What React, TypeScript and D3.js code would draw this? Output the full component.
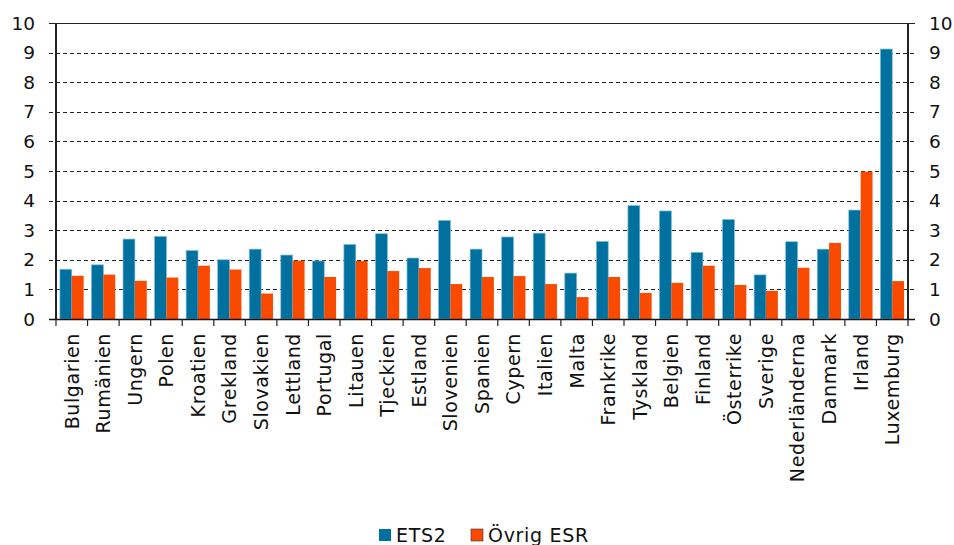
import React from "react";
import * as d3 from "d3";

const categories = [
  "Bulgarien", "Rumänien", "Ungern", "Polen", "Kroatien", "Grekland", "Slovakien",
  "Lettland", "Portugal", "Litauen", "Tjeckien", "Estland", "Slovenien", "Spanien",
  "Cypern", "Italien", "Malta", "Frankrike", "Tyskland", "Belgien", "Finland",
  "Österrike", "Sverige", "Nederländerna", "Danmark", "Irland", "Luxemburg",
];
const ets2 = [
  1.68, 1.83, 2.7, 2.79, 2.31, 2.0, 2.36, 2.16, 1.96, 2.52, 2.88, 2.06, 3.33,
  2.36, 2.77, 2.9, 1.55, 2.62, 3.83, 3.65, 2.25, 3.36, 1.49, 2.61, 2.36, 3.68, 9.12,
];
const ovrigEsr = [
  1.46, 1.5, 1.29, 1.4, 1.8, 1.67, 0.86, 1.97, 1.42, 1.96, 1.62, 1.72, 1.18,
  1.42, 1.45, 1.18, 0.74, 1.42, 0.88, 1.22, 1.8, 1.15, 0.95, 1.73, 2.57, 4.98, 1.28,
];
const yTicks = [0, 1, 2, 3, 4, 5, 6, 7, 8, 9, 10];
const seriesNames = ["ETS2", "Övrig ESR"];
const seriesColors = ["#00709f", "#f94a00"];

const W = 954;
const H = 545;
const plot = { left: 56, right: 908, top: 23, bottom: 319 };
const FONT = "'DejaVu Sans', Verdana, sans-serif";

export default function App() {
  const x0 = d3
    .scaleBand<string>()
    .domain(categories)
    .range([plot.left, plot.right])
    .paddingInner(0)
    .paddingOuter(0);
  const x1 = d3
    .scaleBand<string>()
    .domain(seriesNames)
    .range([0, x0.bandwidth()])
    .paddingInner(0)
    .paddingOuter(0.33);
  const y = d3.scaleLinear().domain([0, 10]).range([plot.bottom, plot.top]);

  const seriesData = [ets2, ovrigEsr];
  const boundaries = categories.map((c) => x0(c) as number).concat([plot.right]);

  return (
    <svg
      width={W}
      height={H}
      style={{ position: "absolute", left: 0, top: 0, background: "#fff" }}
      fontFamily={FONT}
    >
      {/* gridlines */}
      {yTicks.map((t) => (
        <line
          key={"g" + t}
          x1={plot.left - 7}
          x2={plot.right + 7}
          y1={Math.round(y(t)) + 0.5}
          y2={Math.round(y(t)) + 0.5}
          stroke="#222"
          strokeWidth={1}
          strokeDasharray={t === 10 || t === 0 ? undefined : "4,3"}
        />
      ))}

      {/* bars */}
      {categories.map((c, i) => (
        <g key={c} transform={`translate(${x0(c)},0)`}>
          {seriesData.map((s, si) => (
            <rect
              key={si}
              x={x1(seriesNames[si])}
              y={y(s[i])}
              width={x1.bandwidth()}
              height={plot.bottom - y(s[i])}
              fill={seriesColors[si]}
              stroke={si === 0 ? "#7cb9d4" : "none"}
              strokeWidth={si === 0 ? 0.7 : 0}
            />
          ))}
        </g>
      ))}

      {/* axes */}
      <line x1={plot.left} x2={plot.left} y1={plot.top} y2={plot.bottom} stroke="#222" strokeWidth={2} />
      <line x1={plot.right} x2={plot.right} y1={plot.top} y2={plot.bottom} stroke="#222" strokeWidth={2} />
      <line x1={plot.left - 7} x2={plot.right + 7} y1={plot.bottom + 0.5} y2={plot.bottom + 0.5} stroke="#111" strokeWidth={1.5} />
      {boundaries.map((bx, i) => (
        <line key={"t" + i} x1={bx} x2={bx} y1={plot.bottom} y2={plot.bottom + 7} stroke="#222" strokeWidth={1.2} />
      ))}

      {/* y tick labels, both sides */}
      {yTicks.map((t) => (
        <g key={"l" + t}>
          <text x={35} y={y(t)} dy="0.36em" textAnchor="end" fontSize={18.5} fill="#111">
            {t}
          </text>
          <text x={929} y={y(t)} dy="0.36em" textAnchor="start" fontSize={18.5} fill="#111">
            {t}
          </text>
        </g>
      ))}

      {/* category labels */}
      {categories.map((c) => {
        const cx = (x0(c) as number) + x0.bandwidth() / 2;
        return (
          <text
            key={"c" + c}
            transform={`translate(${cx},${333}) rotate(-90)`}
            textAnchor="end"
            dy="0.36em"
            fontSize={19}
            letterSpacing={0.6}
            fill="#111"
          >
            {c}
          </text>
        );
      })}

      {/* legend */}
      <g fontSize={19} letterSpacing={0.7} fill="#111">
        <rect x={379} y={529} width={12} height={12} fill={seriesColors[0]} />
        <text x={396} y={542}>{seriesNames[0]}</text>
        <rect x={471} y={529} width={12} height={12} fill={seriesColors[1]} stroke="#333" strokeWidth={0.6} />
        <text x={488} y={542}>{seriesNames[1]}</text>
      </g>
    </svg>
  );
}
